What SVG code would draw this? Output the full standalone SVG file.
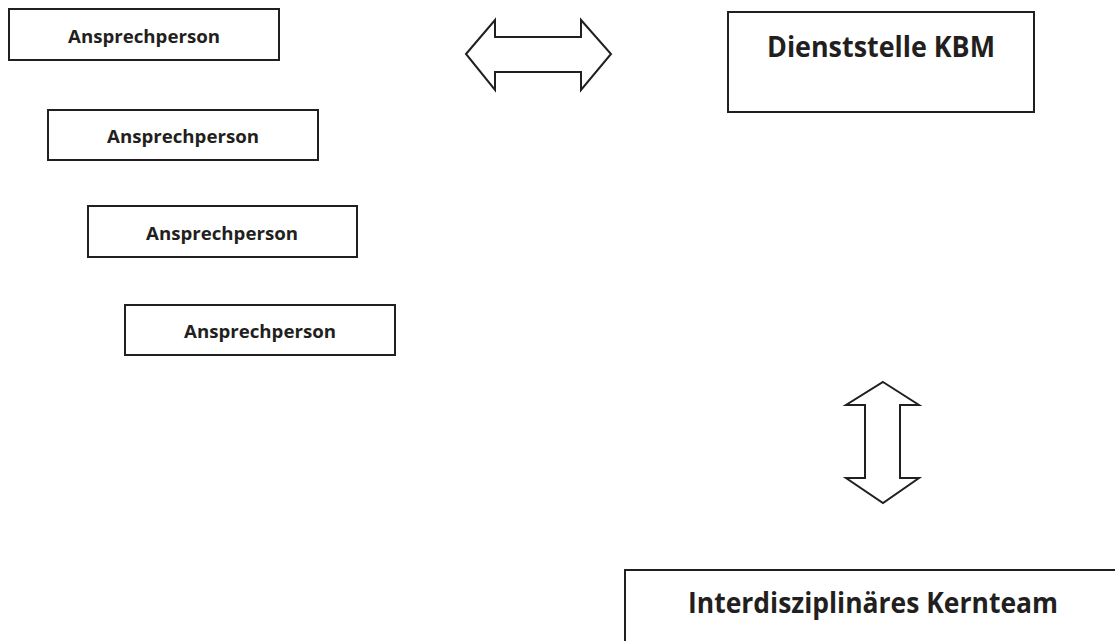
<svg xmlns="http://www.w3.org/2000/svg" width="1115" height="641" viewBox="0 0 1115 641">
<style>
.box{fill:#fff;stroke:#231f20;stroke-width:2}
.arr{fill:#fff;stroke:#231f20;stroke-width:2;stroke-linejoin:miter}
.t{font-family:"Open Sans","Liberation Sans",sans-serif;font-weight:bold;fill:#231f20;text-anchor:middle}
.s{font-size:18px}
.l{font-size:28px}
</style>
<rect width="1115" height="641" fill="#fff"/>
<g id="p1"><rect class="box" x="9" y="9" width="270" height="51"/><text class="t s" x="144" y="43" textLength="152" lengthAdjust="spacingAndGlyphs">Ansprechperson</text></g>
<g id="p2"><rect class="box" x="48" y="110" width="270" height="50"/><text class="t s" x="183" y="143" textLength="152" lengthAdjust="spacingAndGlyphs">Ansprechperson</text></g>
<g id="p3"><rect class="box" x="88" y="206" width="269" height="51"/><text class="t s" x="222" y="240" textLength="152" lengthAdjust="spacingAndGlyphs">Ansprechperson</text></g>
<g id="p4"><rect class="box" x="125" y="305" width="270" height="50"/><text class="t s" x="260" y="338" textLength="152" lengthAdjust="spacingAndGlyphs">Ansprechperson</text></g>
<g id="kbm"><rect class="box" x="728" y="12" width="306" height="100"/><text class="t l" x="881" y="57" textLength="228" lengthAdjust="spacingAndGlyphs">Dienststelle KBM</text></g>
<g id="kern"><rect class="box" x="625" y="570" width="500" height="80"/><text class="t l" x="873" y="613" textLength="370" lengthAdjust="spacingAndGlyphs">Interdisziplinäres Kernteam</text></g>
<g id="connectors">
<path class="arr" d="M466,54 L495,20 L495,37 L581,37 L581,20 L611,54 L581,90 L581,72 L495,72 L495,90 Z"/>
<path class="arr" d="M883,382 L919,405 L900,405 L900,478 L919,478 L883,503 L846,478 L865,478 L865,405 L846,405 Z"/>
</g>
</svg>
